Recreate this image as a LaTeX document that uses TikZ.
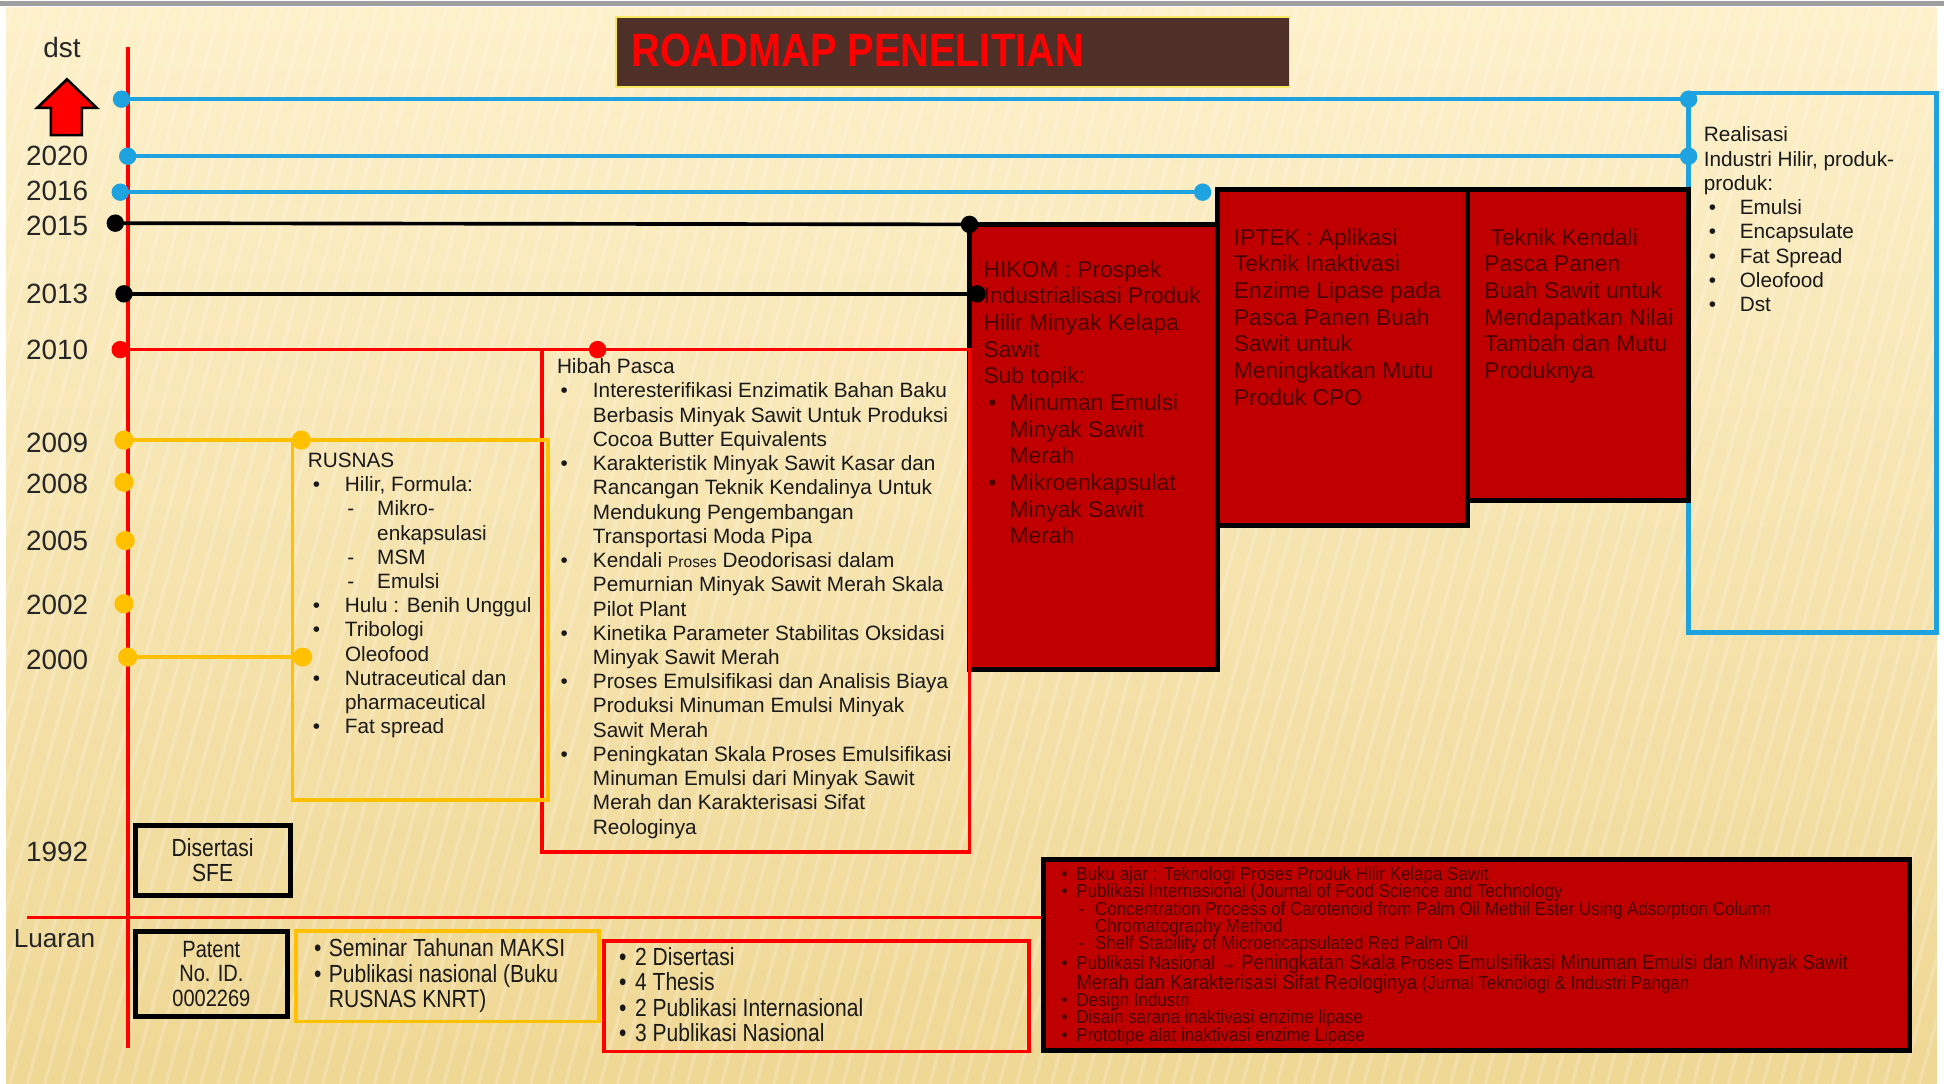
\documentclass[tikz,border=0pt]{standalone}
\usepackage{fontspec}
\setmainfont{Liberation Sans}
\newfontfamily\narrowfont[FakeStretch=0.85]{Liberation Sans}
\newfontfamily\tinyfont[FakeStretch=0.9]{Liberation Sans}
\usetikzlibrary{fit}
\newlength\pxu
\setlength\pxu{0.025cm}
\newcommand\bitem[2]{\hspace*{#1\pxu}\makebox[#2\pxu][l]{\textbullet}}
\newcommand\cont[1]{\hspace*{#1\pxu}}
\newcommand\tightlines{\setlength\lineskiplimit{-20pt}}
\definecolor{cream}{HTML}{FDF1CB}
\definecolor{sand}{HTML}{EFD794}
\definecolor{tline}{HTML}{1FA3E0}
\definecolor{gold}{HTML}{FFC000}
\definecolor{darkred}{HTML}{C00000}
\definecolor{boxtext}{HTML}{4A0000}
\definecolor{titlebg}{HTML}{4F3028}
\definecolor{titleframe}{HTML}{F8E860}

\begin{document}
\begin{tikzpicture}[x=0.025cm,y=-0.025cm,
tdot/.style={circle,inner sep=0pt,minimum size=10pt},
thinline/.style={line width=2.1pt},
linebox/.style={draw=#1,line width=2.1pt,inner sep=0pt},
redblock/.style={draw=black,fill=darkred,line width=2.8pt,inner sep=0pt},
blackbox/.style={draw=black,line width=2.8pt,inner sep=0pt},
year/.style={font=\fontsize{16}{18}\selectfont,text=black!85,inner sep=0pt},
bodytext/.style={anchor=north west,inner sep=0pt,align=left,font=\fontsize{11.9}{13.9}\selectfont,text=black!90},
redtext/.style={anchor=north west,inner sep=0pt,align=left,font=\fontsize{13.1}{15.3}\selectfont,text=boxtext},
narrowtext/.style={inner sep=0pt,font=\narrowfont\fontsize{14.2}{14.6}\selectfont,text=black!90},
tinytext/.style={anchor=north west,inner sep=0pt,align=left,font={\tinyfont\fontsize{10.8}{9.9}\selectfont\tightlines},text=boxtext}
]
\useasboundingbox (0,0) rectangle (1568,874);
\fill[white] (0,0) rectangle (1568,874);
\shade[top color=cream,bottom color=sand] (5,6) rectangle (1562,874);
\begin{scope}
\clip (5,6) rectangle (1562,874);
\foreach \s in {-300,-286,...,1560}
  \draw[white,opacity=0.2,line width=2pt] (\s,874) -- (\s+240,6);
\end{scope}
\fill[gray!75] (0,1) rectangle (1568,5);

\node[fill=titlebg,draw=titleframe,line width=1pt,inner sep=0pt,fit={(497,14) (1040,70)}] (judulbox) {};
\node[anchor=west,inner sep=0pt,font=\narrowfont\bfseries\fontsize{26.8}{30}\selectfont,text=red] (judul) at (509,41) {ROADMAP PENELITIAN};

\coordinate (ax1) at (103,38);
\coordinate (ax2) at (103,845);
\draw[red,thinline] (ax1) -- (ax2);

\coordinate (b1l) at (98,80);
\coordinate (b1r) at (1362,80);
\coordinate (b2l) at (103,126);
\coordinate (b2r) at (1362,126);
\coordinate (b3l) at (97,155);
\coordinate (b3r) at (970,155);
\coordinate (k1l) at (93,180);
\coordinate (k1r) at (782,181);
\coordinate (k2l) at (100,237);
\coordinate (k2r) at (788,237);
\coordinate (r1l) at (97,282);
\coordinate (r1m) at (482,282);
\coordinate (y1l) at (100,355);
\coordinate (y1r) at (243,355);
\coordinate (y2l) at (103,530);
\coordinate (y2r) at (244,530);
\coordinate (y3) at (100,389);
\coordinate (y4) at (101,436);
\coordinate (y5) at (100,487);

\draw[tline,thinline] (b1l) -- (b1r);
\draw[tline,thinline] (b2l) -- (b2r);
\draw[tline,thinline] (b3l) -- (b3r);
\draw[black,thinline] (k1l) -- (k1r);
\draw[black,thinline] (k2l) -- (k2r);
\draw[red,thinline] (r1l) -- (r1m);
\draw[gold,thinline] (y1l) -- (y1r);
\draw[gold,thinline] (y2l) -- (y2r);

\node[linebox=tline,line width=2.8pt,fit={(1362,75) (1562,510)}] (realisasi) {};
\node[redblock,fit={(782,181) (982,540)}] (hikom) {};
\node[redblock,fit={(982,153) (1184,424)}] (iptek) {};
\node[redblock,fit={(1184,153) (1362,404)}] (kendali) {};
\node[linebox=red,fit={(437,282) (782,687)}] (hibah) {};
\node[linebox=gold,fit={(236,355) (442,645)}] (rusnas) {};
\node[blackbox,fit={(109,666) (234,722)}] (disertasi) {};
\node[blackbox,fit={(109,751) (232,820)}] (patent) {};
\node[linebox=gold,fit={(239,751) (483,824)}] (seminar) {};
\node[linebox=red,fit={(487,759) (830,848)}] (publikasi) {};
\node[redblock,fit={(842,693) (1540,847)}] (luaranbox) {};

\coordinate (lu) at (22,740);
\draw[red,thinline] (lu) -- (lu -| luaranbox.west);

\foreach \c in {b1l,b1r,b2l,b2r,b3l,b3r}
  \node[tdot,fill=tline] (d\c) at (\c) {};
\foreach \c in {k1l,k1r,k2l,k2r}
  \node[tdot,fill=black] (d\c) at (\c) {};
\foreach \c in {r1l,r1m}
  \node[tdot,fill=red] (d\c) at (\c) {};
\foreach \c in {y1l,y1r,y2l,y2r,y3,y4,y5}
  \node[tdot,fill=gold,minimum size=11pt] (d\c) at (\c) {};

\draw[fill=red,line width=1.5pt,line join=miter] (54,64) -- (78,87) -- (66,87) -- (66,109) -- (41,109) -- (41,87) -- (30,87) -- cycle;

\node[year] (ldst) at (50,38) {dst};
\node[year] (l2020) at (46,126) {2020};
\node[year] (l2016) at (46,154) {2016};
\node[year] (l2015) at (46,182) {2015};
\node[year] (l2013) at (46,237) {2013};
\node[year] (l2010) at (46,282) {2010};
\node[year] (l2009) at (46,357) {2009};
\node[year] (l2008) at (46,390) {2008};
\node[year] (l2005) at (46,436) {2005};
\node[year] (l2002) at (46,488) {2002};
\node[year] (l2000) at (46,532) {2000};
\node[year] (l1992) at (46,687) {1992};
\node[year,font=\fontsize{15}{18}\selectfont] (lluaran) at (44,757) {Luaran};

\node[bodytext] (rusnastext) at (248,365) {RUSNAS\\
\bitem{4}{26}Hilir, Formula:\\
\cont{32}\makebox[24\pxu][l]{-}Mikro-\\
\cont{56}enkapsulasi\\
\cont{32}\makebox[24\pxu][l]{-}MSM\\
\cont{32}\makebox[24\pxu][l]{-}Emulsi\\
\bitem{4}{26}Hulu : Benih Unggul\\
\bitem{4}{26}Tribologi\\
\cont{30}Oleofood\\
\bitem{4}{26}Nutraceutical dan\\
\cont{30}pharmaceutical\\
\bitem{4}{26}Fat spread};

\node[bodytext] (hibahtext) at (449,289) {Hibah Pasca\\
\bitem{3}{26}Interesterifikasi Enzimatik Bahan Baku\\
\cont{29}Berbasis Minyak Sawit Untuk Produksi\\
\cont{29}Cocoa Butter Equivalents\\
\bitem{3}{26}Karakteristik Minyak Sawit Kasar dan\\
\cont{29}Rancangan Teknik Kendalinya Untuk\\
\cont{29}Mendukung Pengembangan\\
\cont{29}Transportasi Moda Pipa\\
\bitem{3}{26}Kendali {\fontsize{9}{13.9}\selectfont Proses} Deodorisasi dalam\\
\cont{29}Pemurnian Minyak Sawit Merah Skala\\
\cont{29}Pilot Plant\\
\bitem{3}{26}Kinetika Parameter Stabilitas Oksidasi\\
\cont{29}Minyak Sawit Merah\\
\bitem{3}{26}Proses Emulsifikasi dan Analisis Biaya\\
\cont{29}Produksi Minuman Emulsi Minyak\\
\cont{29}Sawit Merah\\
\bitem{3}{26}Peningkatan Skala Proses Emulsifikasi\\
\cont{29}Minuman Emulsi dari Minyak Sawit\\
\cont{29}Merah dan Karakterisasi Sifat\\
\cont{29}Reologinya};

\node[redtext] (hikomtext) at (793,210) {HIKOM : Prospek\\
Industrialisasi Produk\\
Hilir Minyak Kelapa\\
Sawit\\
Sub topik:\\
\bitem{4}{17}Minuman Emulsi\\
\cont{21}Minyak Sawit\\
\cont{21}Merah\\
\bitem{4}{17}Mikroenkapsulat\\
\cont{21}Minyak Sawit\\
\cont{21}Merah};

\node[redtext] (iptektext) at (995,184) {IPTEK : Aplikasi\\
Teknik Inaktivasi\\
Enzime Lipase pada\\
Pasca Panen Buah\\
Sawit untuk\\
Meningkatkan Mutu\\
Produk CPO};

\node[redtext] (kendalitext) at (1197,184) {\cont{5}Teknik Kendali\\
Pasca Panen\\
Buah Sawit untuk\\
Mendapatkan Nilai\\
Tambah dan Mutu\\
Produknya};

\node[bodytext] (realisasitext) at (1374,102) {Realisasi\\
Industri Hilir, produk-\\
produk:\\
\bitem{4}{25}Emulsi\\
\bitem{4}{25}Encapsulate\\
\bitem{4}{25}Fat Spread\\
\bitem{4}{25}Oleofood\\
\bitem{4}{25}Dst};

\node[narrowtext,align=center] (disertasitext) at (disertasi.center) {Disertasi\\SFE};
\node[narrowtext,align=center,font=\narrowfont\fontsize{13.5}{13.9}\selectfont] (patenttext) at (patent.center) {Patent\\No. ID.\\0002269};

\node[narrowtext,anchor=north west,align=left] (seminartext) at (253,757) {\bitem{0}{12}Seminar Tahunan MAKSI\\
\bitem{0}{12}Publikasi nasional (Buku\\
\cont{12}RUSNAS KNRT)};

\node[narrowtext,anchor=north west,align=left] (publikasitext) at (499,764) {\bitem{0}{13}2 Disertasi\\
\bitem{0}{13}4 Thesis\\
\bitem{0}{13}2 Publikasi Internasional\\
\bitem{0}{13}3 Publikasi Nasional};

\node[tinytext] (luarantext) at (856,699) {\bitem{0}{12}Buku ajar : Teknologi Proses Produk Hilir Kelapa Sawit\\
\bitem{0}{12}Publikasi Internasional (Journal of Food Science and Technology\\
\cont{14}\makebox[13\pxu][l]{-}Concentration Process of Carotenoid from Palm Oil Methil Ester Using Adsorption Column\\
\cont{27}Chromatography Method\\
\cont{14}\makebox[13\pxu][l]{-}Shelf Stability of Microencapsulated Red Palm Oil\\[1.5pt]
\bitem{0}{12}Publikasi Nasional → {\fontsize{11.8}{9.9}\selectfont Peningkatan Skala} Proses {\fontsize{11.8}{9.9}\selectfont Emulsifikasi Minuman Emulsi dan Minyak Sawit}\\[1.5pt]
\cont{12}{\fontsize{11.8}{9.9}\selectfont Merah dan Karakterisasi Sifat Reologinya} (Jurnal Teknologi \& Industri Pangan\\
\bitem{0}{12}Design Industri\\
\bitem{0}{12}Disain sarana inaktivasi enzime lipase\\
\bitem{0}{12}Prototipe alat inaktivasi enzime Lipase};
\end{tikzpicture}
\end{document}
